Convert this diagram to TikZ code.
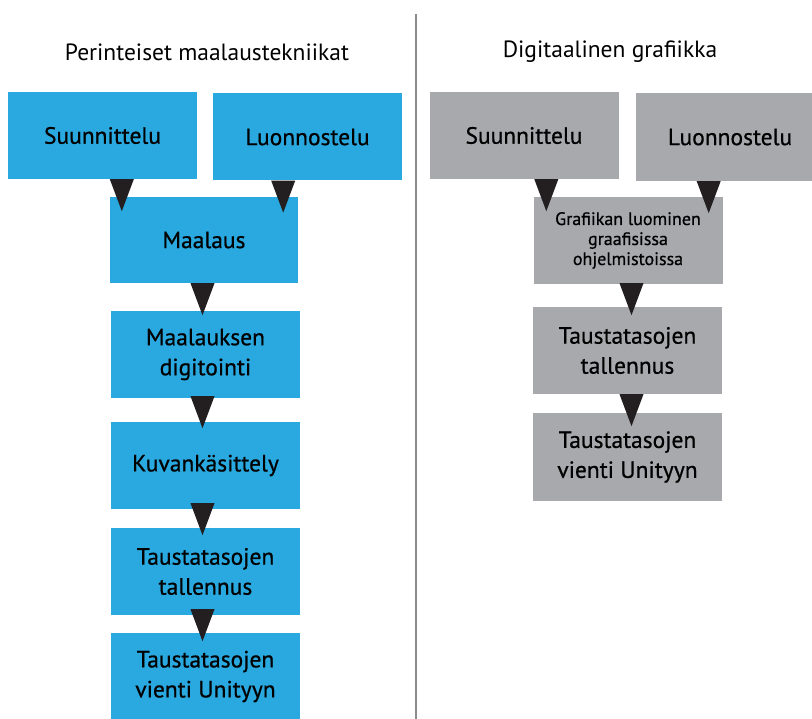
\documentclass[tikz,border=0pt]{standalone}
\usepackage{fontspec}
\setmainfont{PT Sans}
\usetikzlibrary{calc}
\definecolor{boxblue}{HTML}{29A9E0}
\definecolor{boxgray}{HTML}{A7A9AC}
\definecolor{tricol}{HTML}{231F20}
\definecolor{divcol}{HTML}{8C8C8C}
\newfontfamily\boxfont[FakeBold=0.6]{PT Sans}
\tikzset{
  basebox/.style={rectangle, inner sep=0pt, minimum width=189pt, minimum height=87pt, align=center, font=\boxfont\fontsize{23.5}{30}\selectfont, text=black},
  bluebox/.style={basebox, fill=boxblue},
  graybox/.style={basebox, fill=boxgray},
  title/.style={font=\fontsize{23.5}{28}\selectfont, text=black},
  tri/.style={fill=tricol},
}
\newcommand\arrowtri[3]{% #1 x-point, #2 source node, #3 yshift up
  \fill[tri] ($(#1 |- #2.south)+(-12,-#3)$) -- ++(24,0) -- ++(-12,32) -- cycle;}
\begin{document}
\begin{tikzpicture}[x=1pt,y=-1pt]
\useasboundingbox (0,0) rectangle (812,719);
\clip (0,0) rectangle (812,719);
% divider
\draw[divcol, line width=2pt] (416,14) -- (416,719);
% titles
\node[title] (tL) at (207,52) {Perinteiset maalaustekniikat};
\node[title] (tR) at (610,52) {Digitaalinen grafiikka};
% left column
\node[bluebox] (s1) at (102.5,135.5) {Suunnittelu};
\node[bluebox] (l1) at (307.5,137) {Luonnostelu};
\node[bluebox, minimum width=188pt, minimum height=86pt] (m1) at (204,240) {Maalaus};
\node[bluebox] (d1) at (205.5,354.5) {Maalauksen\\digitointi};
\node[bluebox] (k1) at (205.5,465.5) {Kuvankäsittely};
\node[bluebox] (t1) at (205.5,571.5) {Taustatasojen\\tallennus};
\node[bluebox] (v1) at (205.5,676.5) {Taustatasojen\\vienti Unityyn};
% right column
\node[graybox] (s2) at (524,135.5) {Suunnittelu};
\node[graybox, minimum width=188pt, minimum height=88pt] (l2) at (730,137) {Luonnostelu};
\node[graybox, font=\boxfont\fontsize{18}{20}\selectfont] (g2) at (628,240.5) {Grafiikan luominen\\graafisissa\\ohjelmistoissa};
\node[graybox] (t2) at (627.5,350.5) {Taustatasojen\\tallennus};
\node[graybox, minimum height=88pt] (v2) at (627.5,457) {Taustatasojen\\vienti Unityyn};
% connector triangles
\coordinate (xa) at ($(m1.west)+(12,0)$);
\coordinate (xb) at ($(m1.east)+(-15,0)$);
\coordinate (xc) at ($(d1.north)+(-3,0)$);
\coordinate (xd) at ($(g2.west)+(13,0)$);
\coordinate (xe) at ($(g2.east)+(-14,0)$);
\coordinate (xf) at ($(t2.north)+(4,0)$);
\arrowtri{xa}{s1}{0}
\arrowtri{xb}{l1}{0}
\arrowtri{xc}{m1}{0}
\arrowtri{xc}{d1}{2}
\arrowtri{xc}{k1}{6}
\arrowtri{xc}{t1}{6}
\arrowtri{xd}{s2}{0}
\arrowtri{xe}{l2}{0}
\arrowtri{xf}{g2}{1}
\arrowtri{xf}{t2}{0}
\end{tikzpicture}
\end{document}
